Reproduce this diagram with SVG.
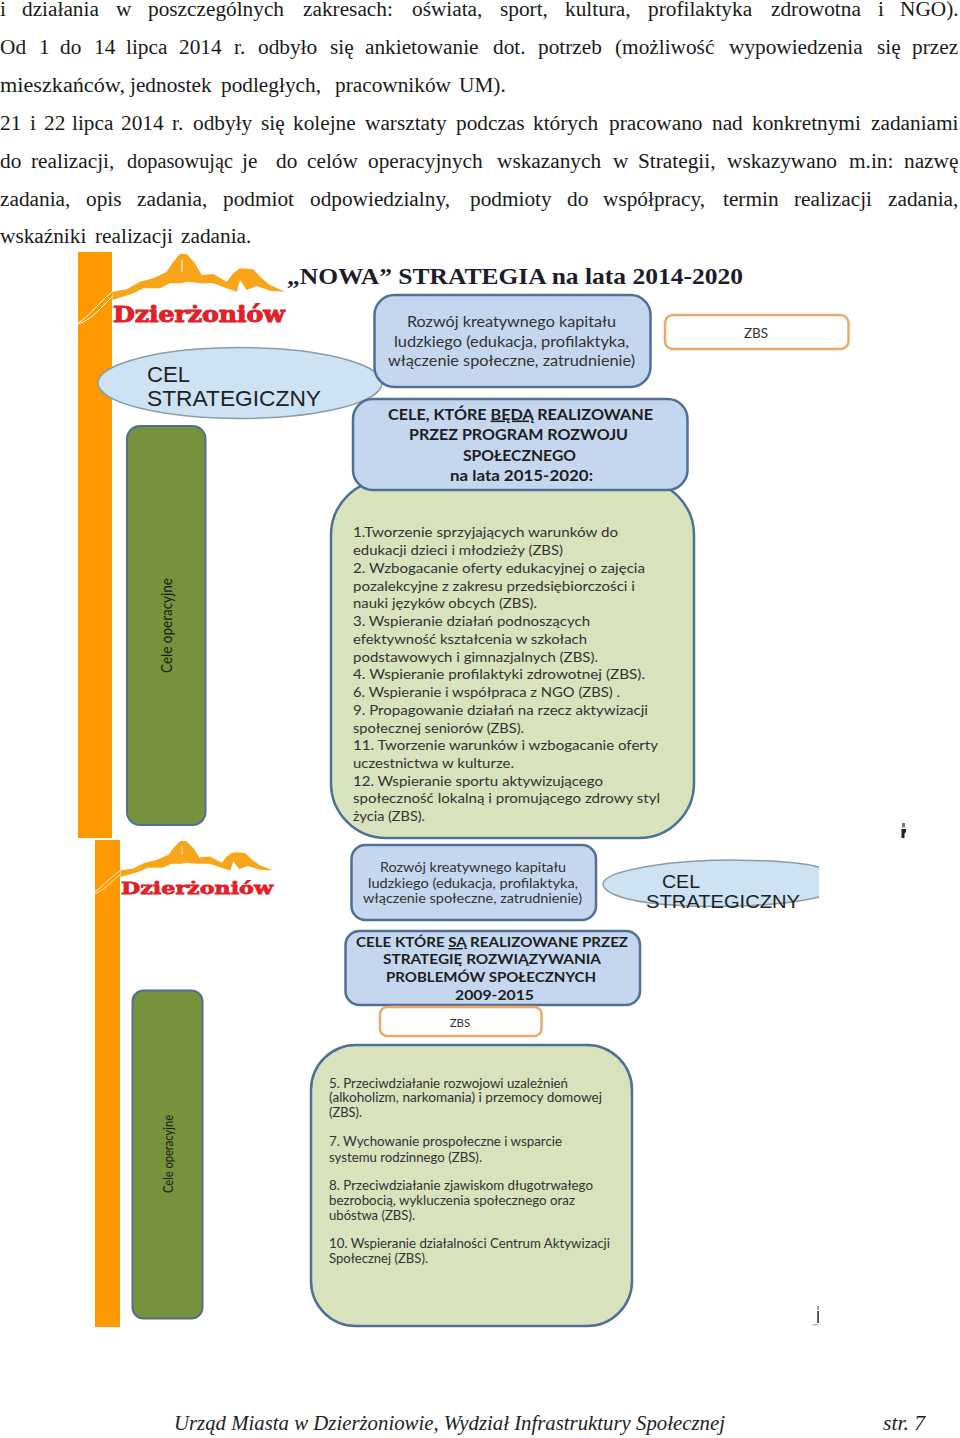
<svg xmlns="http://www.w3.org/2000/svg" width="960" height="1438" viewBox="0 0 960 1438">
<style>
.body{font-family:"Liberation Serif",serif;font-size:21.3px;fill:#1a1a1a}
.bar{fill:#FF9900}
.ell{fill:#CDE3F3;stroke:#8E9BA5;stroke-width:1.5}
.cel{font-family:"Liberation Sans",sans-serif;fill:#222}
.blue{fill:#C5D7EF;stroke:#4F6F96;stroke-width:2.5}
.orange{fill:#fff;stroke:#F0A868;stroke-width:2.5}
.green{fill:#D8E2BD;stroke:#4F6F96;stroke-width:2.5}
.olive{fill:#76923C;stroke:#4F6F96;stroke-width:2}
.t{font-family:Lato,"Noto Sans",sans-serif;fill:#333}
.b{font-family:Lato,"Noto Sans",sans-serif;font-weight:700;fill:#1e1e1e}
.a{font-size:14.3px}
.c{font-size:12.5px}
.op{font-family:Lato,"Noto Sans",sans-serif;fill:#1a1a1a}
.foot{font-family:"Liberation Serif",serif;font-style:italic;font-size:21px;fill:#222}
.logotext{font-family:"DejaVu Serif",serif;font-weight:700;font-size:22px;fill:#E0202A;stroke:#E0202A;stroke-width:1}
</style>
<defs>
<g id="logo">
<path fill="#F9A51A" d="M112.3 291.700 126.700 289.300 140 281.700 153.300 278.300 166.700 271.700 173.300 261.700 180 254 186.700 254 195 263.300 201.700 275 213.300 274 226.700 281.700 233.300 273.300 240 268.300 253.300 269.300 261.700 278.300 270 285 285 291.700 270 290.700 256.700 286 246.700 290 240 280 236.700 291.700 226.700 288.300 213.300 283.300 200 283.300 186.700 281.700 181.700 283.300 170 283.300 160 288.300 143.300 288.300 133.300 293.300 112.300 300Z"/>
<path fill="none" stroke="#fff" stroke-width="1" d="M78 323C90 316 98 303 112 292M78 324C92 320 102 306 113 296M182 260V272"/>
<text class="logotext" x="113" y="322" textLength="172" lengthAdjust="spacingAndGlyphs">Dzierżoniów</text>
</g>
</defs>
<rect width="960" height="1438" fill="#fff"/>

<g id="page-text" class="body">
<text y="15.700"><tspan x="0">i</tspan> <tspan x="22">działania</tspan> <tspan x="116">w</tspan> <tspan x="148">poszczególnych</tspan> <tspan x="303">zakresach:</tspan> <tspan x="412">oświata,</tspan> <tspan x="500">sport,</tspan> <tspan x="565">kultura,</tspan> <tspan x="648">profilaktyka</tspan> <tspan x="771">zdrowotna</tspan> <tspan x="878">i</tspan> <tspan x="900">NGO).</tspan></text>
<text y="53.700"><tspan x="0">Od</tspan> <tspan x="39">1</tspan> <tspan x="60">do</tspan> <tspan x="94">14</tspan> <tspan x="126">lipca</tspan> <tspan x="179">2014</tspan> <tspan x="234">r.</tspan> <tspan x="258">odbyło</tspan> <tspan x="330">się</tspan> <tspan x="365">ankietowanie</tspan> <tspan x="493">dot.</tspan> <tspan x="538">potrzeb</tspan> <tspan x="615">(możliwość</tspan> <tspan x="729">wypowiedzenia</tspan> <tspan x="877">się</tspan> <tspan x="912">przez</tspan></text>
<text y="91.700"><tspan x="0" textLength="125" lengthAdjust="spacingAndGlyphs">mieszkańców,</tspan> <tspan x="130">jednostek</tspan> <tspan x="221">podległych,</tspan> <tspan x="335">pracowników</tspan> <tspan x="459">UM).</tspan></text>
<text y="129.700"><tspan x="0">21</tspan> <tspan x="30">i</tspan> <tspan x="44">22</tspan> <tspan x="72">lipca</tspan> <tspan x="121">2014</tspan> <tspan x="172">r.</tspan> <tspan x="193">odbyły</tspan> <tspan x="261">się</tspan> <tspan x="293">kolejne</tspan> <tspan x="365">warsztaty</tspan> <tspan x="456">podczas</tspan> <tspan x="533">których</tspan> <tspan x="609">pracowano</tspan> <tspan x="712">nad</tspan> <tspan x="752">konkretnymi</tspan> <tspan x="871">zadaniami</tspan></text>
<text y="167.700"><tspan x="0">do</tspan> <tspan x="31">realizacji,</tspan> <tspan x="127" textLength="106" lengthAdjust="spacingAndGlyphs">dopasowując</tspan> <tspan x="242">je</tspan> <tspan x="276">do</tspan> <tspan x="307">celów</tspan> <tspan x="368">operacyjnych</tspan> <tspan x="497">wskazanych</tspan> <tspan x="613">w</tspan> <tspan x="638">Strategii,</tspan> <tspan x="727">wskazywano</tspan> <tspan x="849">m.in:</tspan> <tspan x="904">nazwę</tspan></text>
<text y="205.700"><tspan x="0">zadania,</tspan> <tspan x="86">opis</tspan> <tspan x="137">zadania,</tspan> <tspan x="223">podmiot</tspan> <tspan x="310">odpowiedzialny,</tspan> <tspan x="470">podmioty</tspan> <tspan x="567">do</tspan> <tspan x="603">współpracy,</tspan> <tspan x="723">termin</tspan> <tspan x="794">realizacji</tspan> <tspan x="888">zadania,</tspan></text>
<text y="243.300"><tspan x="0">wskaźniki</tspan> <tspan x="95">realizacji</tspan> <tspan x="181">zadania.</tspan></text>
</g>

<g id="bar-1"><rect class="bar" x="78" y="252" width="34" height="586"/></g>
<g id="logo-1"><use href="#logo"/></g>
<g id="title"><text x="287" y="284" font-family="Liberation Serif,serif" font-weight="700" font-size="22.500" fill="#1c1c2c" textLength="456" lengthAdjust="spacingAndGlyphs">„NOWA” STRATEGIA na lata 2014-2020</text></g>

<g id="cel-1">
<ellipse class="ell" cx="240" cy="383" rx="142" ry="35.500"/>
<text class="cel" x="147" y="382" font-size="22" textLength="43" lengthAdjust="spacingAndGlyphs">CEL</text>
<text class="cel" x="147" y="406" font-size="22" textLength="174" lengthAdjust="spacingAndGlyphs">STRATEGICZNY</text>
</g>

<g id="olive-1">
<rect class="olive" x="127" y="426" width="78.500" height="399" rx="13"/>
<text class="op" transform="translate(172 673) rotate(-90)" font-size="15" textLength="95" lengthAdjust="spacingAndGlyphs">Cele operacyjne</text>
</g>

<g id="goals-1">
<rect class="green" x="331" y="480" width="363" height="358" rx="55"/>
<g class="t a">
<text x="353" y="537" textLength="265" lengthAdjust="spacingAndGlyphs">1.Tworzenie sprzyjających warunków do</text>
<text x="353" y="555" textLength="210" lengthAdjust="spacingAndGlyphs">edukacji dzieci i młodzieży (ZBS)</text>
<text x="353" y="573" textLength="292" lengthAdjust="spacingAndGlyphs">2. Wzbogacanie oferty edukacyjnej o zajęcia</text>
<text x="353" y="591" textLength="282" lengthAdjust="spacingAndGlyphs">pozalekcyjne z zakresu przedsiębiorczości i</text>
<text x="353" y="608" textLength="184" lengthAdjust="spacingAndGlyphs">nauki języków obcych (ZBS).</text>
<text x="353" y="626" textLength="237" lengthAdjust="spacingAndGlyphs">3. Wspieranie działań podnoszących</text>
<text x="353" y="644" textLength="234" lengthAdjust="spacingAndGlyphs">efektywność kształcenia w szkołach</text>
<text x="353" y="662" textLength="245" lengthAdjust="spacingAndGlyphs">podstawowych i gimnazjalnych (ZBS).</text>
<text x="353" y="679" textLength="292" lengthAdjust="spacingAndGlyphs">4.  Wspieranie profilaktyki zdrowotnej (ZBS).</text>
<text x="353" y="697" textLength="267" lengthAdjust="spacingAndGlyphs">6. Wspieranie i współpraca z NGO (ZBS) .</text>
<text x="353" y="715" textLength="295" lengthAdjust="spacingAndGlyphs">9. Propagowanie działań na rzecz aktywizacji</text>
<text x="353" y="733" textLength="171" lengthAdjust="spacingAndGlyphs">społecznej seniorów (ZBS).</text>
<text x="353" y="750" textLength="305" lengthAdjust="spacingAndGlyphs">11. Tworzenie warunków i wzbogacanie oferty</text>
<text x="353" y="768" textLength="161" lengthAdjust="spacingAndGlyphs">uczestnictwa w kulturze.</text>
<text x="353" y="786" textLength="250" lengthAdjust="spacingAndGlyphs">12. Wspieranie sportu aktywizującego</text>
<text x="353" y="803" textLength="307" lengthAdjust="spacingAndGlyphs">społeczność lokalną i promującego zdrowy styl</text>
<text x="353" y="821" textLength="72" lengthAdjust="spacingAndGlyphs">życia (ZBS).</text>
</g>
</g>

<g id="priority-1">
<rect class="blue" x="374.500" y="295" width="276" height="92" rx="20"/>
<g class="t" font-size="14.500">
<text x="407" y="327" textLength="209" lengthAdjust="spacingAndGlyphs">Rozwój kreatywnego kapitału</text>
<text x="394" y="346.500" textLength="235" lengthAdjust="spacingAndGlyphs">ludzkiego (edukacja, profilaktyka,</text>
<text x="388" y="366" textLength="247" lengthAdjust="spacingAndGlyphs">włączenie społeczne, zatrudnienie)</text>
</g>
</g>
<g id="zbs-1">
<rect class="orange" x="665" y="315" width="183.500" height="34" rx="8"/>
<text class="t" x="756" y="338" font-size="13.500" text-anchor="middle">ZBS</text>
</g>
<g id="heading-1">
<rect class="blue" x="353" y="399" width="334.500" height="91" rx="20"/>
<g class="b" font-size="16">
<text x="388" y="419.500" textLength="265" lengthAdjust="spacingAndGlyphs">CELE, KTÓRE <tspan text-decoration="underline">BĘDĄ</tspan> REALIZOWANE</text>
<text x="409" y="440" textLength="219" lengthAdjust="spacingAndGlyphs">PRZEZ PROGRAM ROZWOJU</text>
<text x="463" y="461" textLength="113" lengthAdjust="spacingAndGlyphs">SPOŁECZNEGO</text>
<text x="450" y="481" textLength="143" lengthAdjust="spacingAndGlyphs">na lata 2015-2020:</text>
</g>
</g>

<g id="bar-2"><rect class="bar" x="95" y="840" width="25" height="487"/></g>
<g id="logo-2"><use href="#logo" transform="translate(21.100 642.900) scale(.884 .78)"/></g>

<g id="priority-2">
<rect class="blue" x="351.500" y="845" width="244.500" height="75" rx="14"/>
<g class="t" font-size="12.500">
<text x="380" y="872" textLength="186" lengthAdjust="spacingAndGlyphs">Rozwój kreatywnego kapitału</text>
<text x="368" y="888" textLength="210" lengthAdjust="spacingAndGlyphs">ludzkiego (edukacja, profilaktyka,</text>
<text x="363" y="903" textLength="219" lengthAdjust="spacingAndGlyphs">włączenie społeczne, zatrudnienie)</text>
</g>
</g>
<g id="cel-2">
<path class="ell" d="M819 867C780 858 700 858 650 866 620 871 603 877 603 884 603 892 620 899 650 903 700 909 780 907 819 897"/>
<text class="cel" x="662" y="888" font-size="18" textLength="38" lengthAdjust="spacingAndGlyphs">CEL</text>
<text class="cel" x="646" y="908" font-size="18" textLength="154" lengthAdjust="spacingAndGlyphs">STRATEGICZNY</text>
</g>
<g id="heading-2">
<rect class="blue" x="345.500" y="931" width="294.500" height="74" rx="14"/>
<g class="b" font-size="14">
<text x="356" y="947" textLength="272" lengthAdjust="spacingAndGlyphs">CELE KTÓRE <tspan text-decoration="underline">SĄ</tspan> REALIZOWANE PRZEZ</text>
<text x="383" y="964" textLength="218" lengthAdjust="spacingAndGlyphs">STRATEGIĘ ROZWIĄZYWANIA</text>
<text x="386" y="982" textLength="210" lengthAdjust="spacingAndGlyphs">PROBLEMÓW SPOŁECZNYCH</text>
<text x="455" y="1000" textLength="79" lengthAdjust="spacingAndGlyphs">2009-2015</text>
</g>
</g>
<g id="zbs-2">
<rect class="orange" x="380" y="1007" width="161.500" height="29" rx="7"/>
<text class="t" x="460" y="1027" font-size="11.500" text-anchor="middle">ZBS</text>
</g>
<g id="olive-2">
<rect class="olive" x="132.500" y="990.500" width="70" height="328" rx="11"/>
<text class="op" transform="translate(173 1193) rotate(-90)" font-size="13.500" textLength="78" lengthAdjust="spacingAndGlyphs">Cele operacyjne</text>
</g>
<g id="goals-2">
<rect class="green" x="311" y="1045" width="321" height="281" rx="45"/>
<g class="t c">
<text x="329" y="1088" textLength="239" lengthAdjust="spacingAndGlyphs">5. Przeciwdziałanie rozwojowi uzależnień</text>
<text x="329" y="1102" textLength="273" lengthAdjust="spacingAndGlyphs">(alkoholizm, narkomania) i przemocy domowej</text>
<text x="329" y="1117" textLength="33" lengthAdjust="spacingAndGlyphs">(ZBS).</text>
<text x="329" y="1146" textLength="233" lengthAdjust="spacingAndGlyphs">7. Wychowanie prospołeczne i wsparcie</text>
<text x="329" y="1162" textLength="153" lengthAdjust="spacingAndGlyphs">systemu rodzinnego (ZBS).</text>
<text x="329" y="1190" textLength="264" lengthAdjust="spacingAndGlyphs">8. Przeciwdziałanie zjawiskom długotrwałego</text>
<text x="329" y="1205" textLength="246" lengthAdjust="spacingAndGlyphs">bezrobocią, wykluczenia społecznego oraz</text>
<text x="329" y="1220" textLength="86" lengthAdjust="spacingAndGlyphs">ubóstwa (ZBS).</text>
<text x="329" y="1248" textLength="281" lengthAdjust="spacingAndGlyphs">10. Wspieranie działalności Centrum Aktywizacji</text>
<text x="329" y="1263" textLength="99" lengthAdjust="spacingAndGlyphs">Społecznej (ZBS).</text>
</g>
</g>

<g id="marks">
<rect x="902" y="823" width="3" height="4.500" fill="#777"/>
<path d="M901.500 829H906V832L904.500 833.500V838H901.500Z" fill="#222"/>
<rect x="817.300" y="1306" width="1.500" height="4" fill="#888"/>
<rect x="817.300" y="1311" width="1.500" height="12" fill="#222"/>
<rect x="812.500" y="1324" width="6" height="1.500" fill="#bbb"/>
</g>

<g id="footer">
<text class="foot" x="174" y="1430" textLength="551" lengthAdjust="spacingAndGlyphs">Urząd Miasta w Dzierżoniowie, Wydział Infrastruktury Społecznej</text>
<text class="foot" x="883" y="1430" textLength="42" lengthAdjust="spacingAndGlyphs">str. 7</text>
</g>
</svg>
